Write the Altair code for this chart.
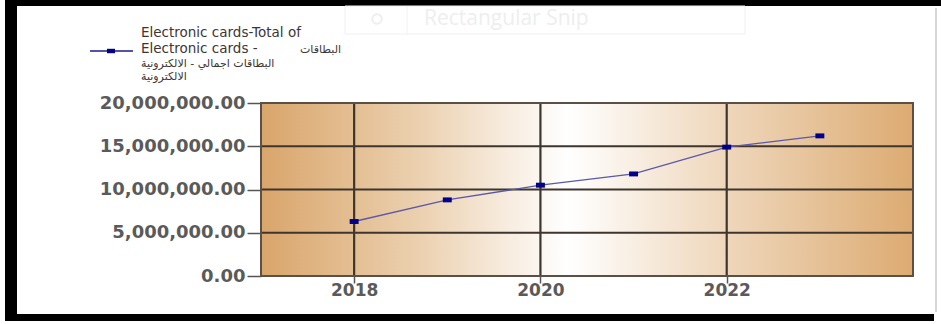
import altair as alt
import pandas as pd

years = [2018, 2019, 2020, 2021, 2022, 2023]
values = [6300000, 8800000, 10500000, 11800000, 14900000, 16200000]
y_ticks = [0, 5000000, 10000000, 15000000, 20000000]
x_ticks = [2018, 2020, 2022]
legend_latin = ["Electronic cards-Total of", "Electronic cards -"]
legend_arabic = ["البطاقات", "البطاقات اجمالي - الالكترونية", "الالكترونية"]

W, H = 652, 173
OX, OY = 261, 103

df = pd.DataFrame({"year": years, "value": values})

bg = alt.LinearGradient(
    gradient="linear",
    stops=[
        alt.GradientStop(color="#d9a56b", offset=0),
        alt.GradientStop(color="#ecd2b2", offset=0.25),
        alt.GradientStop(color="#ffffff", offset=0.47),
        alt.GradientStop(color="#f1dcc4", offset=0.68),
        alt.GradientStop(color="#dcab72", offset=1),
    ],
    x1=0, x2=1, y1=0, y2=0,
)

xs = alt.Scale(domain=[2017, 2024], nice=False, zero=False)
ys = alt.Scale(domain=[0, 20000000], nice=False)

x_enc = alt.X("year:Q", scale=xs, axis=alt.Axis(values=x_ticks, format="d", title=None,
              tickSize=7, labelPadding=-1, labelFontSize=17, grid=False))
y_enc = alt.Y("value:Q", scale=ys, axis=alt.Axis(values=y_ticks, format=",.2f", title=None,
              tickSize=14, labelPadding=2, labelFontSize=18, grid=False))

one = alt.Data(values=[{"a": 1}])

bg_rect = alt.Chart(one).mark_rect(fill=bg).encode(
    x=alt.value(0), x2=alt.value(W), y=alt.value(0), y2=alt.value(H))

grid_y = alt.Chart(pd.DataFrame({"value": y_ticks})).mark_rule(
    color="#3e362e", strokeWidth=1.8).encode(y=y_enc)
grid_x = alt.Chart(pd.DataFrame({"year": x_ticks})).mark_rule(
    color="#3e362e", strokeWidth=2.2).encode(x=x_enc)

border = alt.Chart(one).mark_rect(filled=False, stroke="#5a5046", strokeWidth=2).encode(
    x=alt.value(0), x2=alt.value(W), y=alt.value(0), y2=alt.value(H))

line = alt.Chart(df).mark_line(color="#5a58a8", strokeWidth=1.3).encode(x=x_enc, y=y_enc)
pts = alt.Chart(df).mark_point(
    shape="M-1,-0.55L1,-0.55L1,0.55L-1,0.55Z", size=80, filled=True,
    color="#00008b", opacity=1,
).encode(x="year:Q", y="value:Q")


def box(x0, x1, y0, y1, color):
    return alt.Chart(one).mark_rect(color=color).encode(
        x=alt.value(x0 - OX), x2=alt.value(x1 - OX),
        y=alt.value(y0 - OY), y2=alt.value(y1 - OY))


frame = [
    box(5, 17, 0, 321, "#000000"),
    box(5, 941, 0, 6, "#000000"),
    box(5, 934, 314, 321, "#000000"),
    box(935, 937, 8, 312, "#d6d6d6"),
]

snip_box = alt.Chart(one).mark_rect(fill="#ffffff", stroke="#f0f0f0", strokeWidth=1).encode(
    x=alt.value(345 - OX), x2=alt.value(745 - OX), y=alt.value(6 - OY), y2=alt.value(34 - OY))
snip_div = alt.Chart(one).mark_rule(color="#f0f0f0", strokeWidth=1).encode(
    x=alt.value(407 - OX), y=alt.value(6 - OY), y2=alt.value(34 - OY))
snip_txt = alt.Chart(one).mark_text(
    text="Rectangular Snip", font="Open Sans", fontSize=21, color="#eeeeee", align="left",
    baseline="middle").encode(x=alt.value(424 - OX), y=alt.value(19 - OY))
snip_dot = alt.Chart(one).mark_point(shape="circle", size=90, filled=False, strokeWidth=2,
                                     color="#e8e8e8").encode(
    x=alt.value(377 - OX), y=alt.value(19 - OY))

leg_line = alt.Chart(one).mark_rule(color="#1a1a8c", strokeWidth=1.5).encode(
    x=alt.value(90 - OX), x2=alt.value(133 - OX), y=alt.value(51 - OY))
leg_pt = alt.Chart(one).mark_point(
    shape="M-1,-0.55L1,-0.55L1,0.55L-1,0.55Z", size=64, filled=True, color="#00008b", opacity=1
).encode(x=alt.value(111 - OX), y=alt.value(51 - OY))


def ltxt(s, x, y, size):
    return alt.Chart(one).mark_text(
        text=s, font="DejaVu Sans", fontSize=size, color="#403535", align="left",
        baseline="alphabetic").encode(x=alt.value(x - OX), y=alt.value(y - OY))


leg_txt = [
    ltxt(legend_latin[0], 141, 36.5, 13.5),
    ltxt(legend_latin[1], 141, 52.5, 13.5),
    ltxt(legend_arabic[0], 300, 52.5, 11),
    ltxt(legend_arabic[1], 141, 66.5, 11),
    ltxt(legend_arabic[2], 141, 79.5, 11),
]

chart = alt.layer(
    *frame, snip_box, snip_div, snip_dot, snip_txt, leg_line, leg_pt, *leg_txt,
    bg_rect, grid_y, grid_x, border, line, pts
).properties(
    width=W, height=H,
    autosize=alt.AutoSizeParams(type="none"),
    padding={"left": OX, "top": OY, "right": 941 - OX - W, "bottom": 324 - OY - H},
    background="#ffffff",
).configure_view(
    stroke=None,
).configure_axis(
    labelFont="DejaVu Sans", labelFontWeight="bold", labelColor="#5a5a5a",
    tickColor="#555555", tickWidth=1.5, domain=False,
)

chart.save("out.html", embed_options={"renderer": "svg", "actions": False})
